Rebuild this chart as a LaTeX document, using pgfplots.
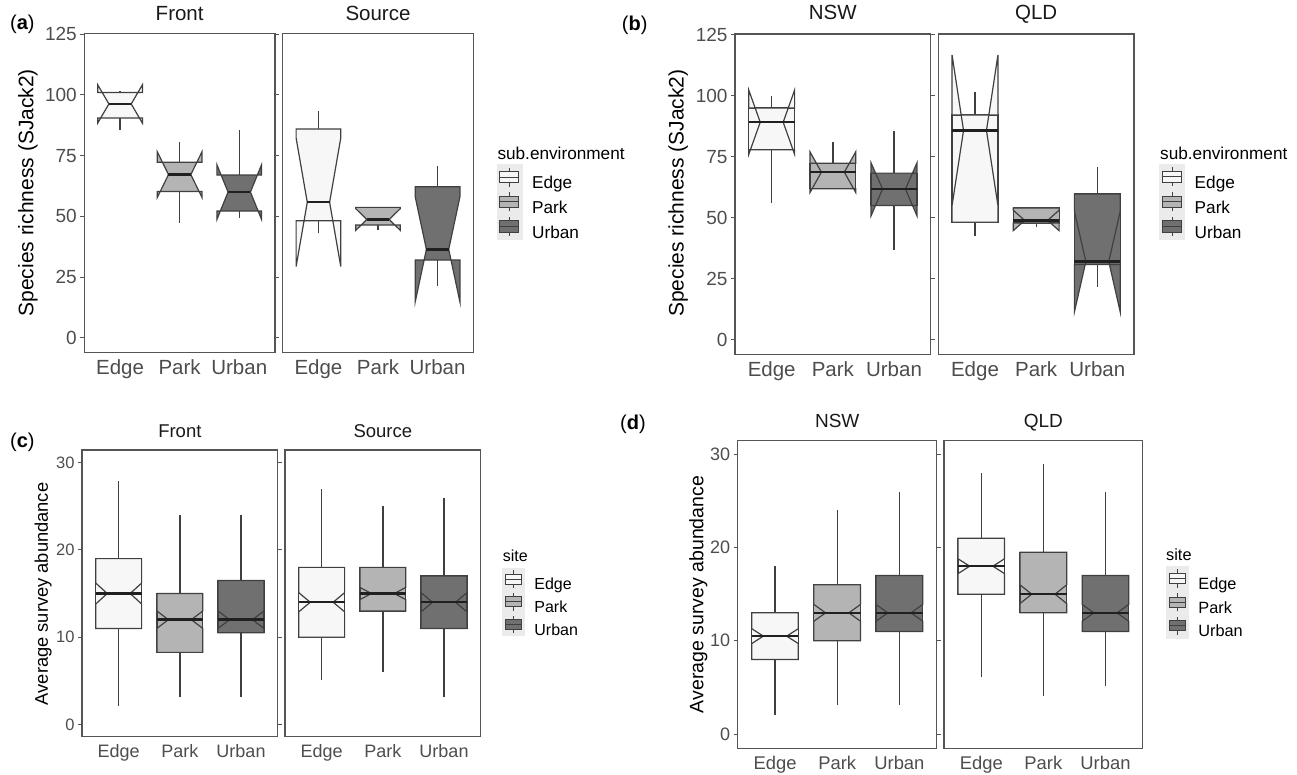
\documentclass[border=0pt]{standalone}
\usepackage{fontspec}
\setmainfont{Liberation Sans}
\usepackage{pgfplots}
\pgfplotsset{compat=1.18}

\definecolor{EdgeC}{HTML}{F7F7F7}
\definecolor{ParkC}{HTML}{B4B4B4}
\definecolor{UrbanC}{HTML}{707070}
\definecolor{linec}{HTML}{404040}
\definecolor{medc}{HTML}{202020}
\definecolor{framec}{HTML}{555555}
\definecolor{tickc}{HTML}{4D4D4D}
\definecolor{keybg}{HTML}{EBEBEB}

\newcommand\fs[1]{\fontsize{#1}{#1}\selectfont}
\newif\ifrectbox

% notched box: x, lower whisker, q1, median, q3, upper whisker, notch low, notch high, fill
\newcommand\nbox[9]{%
  \pgfmathsetmacro\bL{#1-0.375}\pgfmathsetmacro\bR{#1+0.375}%
  \pgfmathsetmacro\nL{#1-0.1875}\pgfmathsetmacro\nR{#1+0.1875}%
  \addplot[whisk] coordinates {(#1,#2) (#1,#3)};
  \addplot[whisk] coordinates {(#1,#5) (#1,#6)};
  \ifrectbox
    \edef\tmp{\noexpand\addplot[boxl,fill=#9] coordinates {(\bL,#3) (\bR,#3) (\bR,#5) (\bL,#5)} -- cycle;}\tmp
  \fi
  \edef\tmp{\noexpand\addplot[boxl,fill=#9] coordinates {(\bL,#5) (\bL,#8) (\nL,#4) (\bL,#7) (\bL,#3) (\bR,#3) (\bR,#7) (\nR,#4) (\bR,#8) (\bR,#5)} -- cycle;}\tmp
  \ifrectbox
    \edef\tmp{\noexpand\addplot[medl] coordinates {(\bL,#4) (\bR,#4)};}\tmp
  \else
    \edef\tmp{\noexpand\addplot[medl] coordinates {(\nL,#4) (\nR,#4)};}\tmp
  \fi
}

\pgfplotsset{
  facet/.style={scale only axis, anchor=south west,
    xmin=0.4, xmax=3.6, xtick={1,2,3}, xticklabels={Edge,Park,Urban},
    axis line style={draw=framec, line width=1.2pt},
    tick align=outside, major tick length=4pt,
    xtick style={draw=none}, ytick style={draw=framec, line width=1pt},
    ticklabel style={text=tickc},
    /pgf/number format/assume math mode=true,
    title style={at={(0.5,1)}, anchor=base, text=black!90},
    ylabel style={anchor=center}},
  noy/.style={ytick=\empty},
  whisk/.style={forget plot, draw=linec, line width=1.3pt},
  boxl/.style={forget plot, draw=linec, line width=1.2pt},
  medl/.style={forget plot, draw=medc, line width=2.4pt},
  keyA/.style={legend image code/.code={
    \fill[keybg] (0pt,-6.3pt) rectangle (25pt,18.7pt);
    \draw[linec, line width=1pt] (12.5pt,-3.3pt) -- (12.5pt,15.7pt);
    \draw[linec, line width=1pt, fill=#1] (3pt,0.6pt) rectangle (22pt,11.8pt);
    \draw[linec, line width=1pt] (3pt,6.2pt) -- (22pt,6.2pt);}},
  keyC/.style={legend image code/.code={
    \fill[keybg] (0pt,-5.5pt) rectangle (22pt,17pt);
    \draw[linec, line width=1pt] (11pt,-3pt) -- (11pt,14.5pt);
    \draw[linec, line width=1pt, fill=#1] (3pt,0.8pt) rectangle (19pt,10.6pt);
    \draw[linec, line width=1pt] (3pt,5.7pt) -- (19pt,5.7pt);}},
  keyD/.style={legend image code/.code={
    \fill[keybg] (0pt,-6.5pt) rectangle (22pt,18pt);
    \draw[linec, line width=1pt] (11pt,-3.5pt) -- (11pt,15pt);
    \draw[linec, line width=1pt, fill=#1] (3pt,0.8pt) rectangle (19pt,10.8pt);
    \draw[linec, line width=1pt] (3pt,5.8pt) -- (19pt,5.8pt);}},
  leg/.style={legend cell align=left, legend style={draw=none, fill=none,
    inner sep=0pt, outer sep=0pt, row sep=-2.1pt, column sep=9pt,
    anchor=north west, nodes={inner sep=1pt, text=black, font=\fs{#1}}}},
  pAB/.style={xticklabel style={font=\fs{20.5}}, yticklabel style={font=\fs{19}},
    title style={font=\fs{20.5}}, ylabel style={font=\fs{21}},
    ymin=-6, ymax=125.4, ytick={0,25,50,75,100,125}},
}

\begin{document}
\begin{tikzpicture}
\useasboundingbox (0,0) rectangle (1297pt,-775pt);

% ---------- (a)
\begin{axis}[facet, pAB, at={(84.3pt,-352.3pt)}, width=190.7pt, height=319pt,
  title={Front}, title style={yshift=6.6pt},
  ylabel={Species richness (SJack2)}, ylabel style={at={(axis description cs:-0.295,0.5)}}]
\rectboxfalse
\nbox{1}{85.6}{90.5}{96.3}{101}{101.8}{88.4}{104.2}{EdgeC}
\nbox{2}{47.4}{60.2}{67.2}{72.3}{80.8}{57.8}{76.6}{ParkC}
\nbox{3}{49.5}{52.2}{60.0}{67.0}{85.6}{48.7}{71.3}{UrbanC}
\end{axis}
\begin{axis}[facet, pAB, noy, at={(282.7pt,-352.3pt)}, width=190.6pt, height=319pt,
  title={Source}, title style={yshift=6.6pt},
  leg=17.2, legend style={at={(1.1228,0.5893)}}]
\rectboxfalse
\nbox{1}{43.0}{48.2}{55.8}{86.0}{93.4}{29.3}{82.3}{EdgeC}
\nbox{2}{44.2}{46.4}{48.7}{53.7}{53.7}{44.2}{53.2}{ParkC}
\nbox{3}{21.3}{32.0}{36.4}{62.2}{70.9}{14.8}{58.0}{UrbanC}
\addlegendimage{keyA=EdgeC}\addlegendentry{Edge}
\addlegendimage{keyA=ParkC}\addlegendentry{Park}
\addlegendimage{keyA=UrbanC}\addlegendentry{Urban}
\end{axis}

% ---------- (b)
\begin{axis}[facet, pAB, at={(735pt,-354.2pt)}, width=195.7pt, height=320.2pt,
  title={NSW}, title style={yshift=8pt},
  ylabel={Species richness (SJack2)}, ylabel style={at={(axis description cs:-0.29,0.503)}}]
\rectboxtrue
\nbox{1}{56.0}{77.9}{89.2}{95.0}{100.1}{76.0}{102.4}{EdgeC}
\nbox{2}{61.9}{61.9}{68.7}{72.4}{80.9}{60.3}{77.1}{ParkC}
\nbox{3}{36.6}{55.0}{61.8}{68.3}{85.7}{50.8}{72.5}{UrbanC}
\end{axis}
\begin{axis}[facet, pAB, noy, at={(938.3pt,-354.2pt)}, width=195.7pt, height=320.2pt,
  title={QLD}, title style={yshift=8pt},
  leg=17.2, legend style={at={(1.1293,0.5931)}}]
\rectboxtrue
\nbox{1}{42.7}{48.2}{85.8}{92.2}{101.8}{55.0}{116.8}{EdgeC}
\nbox{2}{46.0}{47.8}{48.9}{54.0}{54.0}{44.7}{53.1}{ParkC}
\nbox{3}{21.6}{30.8}{32.0}{59.7}{71.0}{11.3}{52.7}{UrbanC}
\addlegendimage{keyA=EdgeC}\addlegendentry{Edge}
\addlegendimage{keyA=ParkC}\addlegendentry{Park}
\addlegendimage{keyA=UrbanC}\addlegendentry{Urban}
\end{axis}

% ---------- (c)
\begin{axis}[facet, at={(82pt,-736.7pt)}, width=195.7pt, height=286.7pt,
  xticklabel style={font=\fs{18}}, yticklabel style={font=\fs{16.5}},
  title style={font=\fs{18.5}, yshift=6.7pt}, ylabel style={font=\fs{18.3}},
  ymin=-1.42, ymax=31.46, ytick={0,10,20,30},
  title={Front}, ylabel={Average survey abundance},
  ylabel style={at={(axis description cs:-0.198,0.498)}}]
\rectboxtrue
\nbox{1}{2.1}{11.0}{15.0}{19.0}{27.9}{13.8}{16.2}{EdgeC}
\nbox{2}{3.1}{8.25}{12.0}{15.0}{24.0}{11.0}{13.0}{ParkC}
\nbox{3}{3.1}{10.5}{12.0}{16.5}{24.0}{11.0}{13.0}{UrbanC}
\end{axis}
\begin{axis}[facet, noy, at={(285pt,-736.7pt)}, width=195.7pt, height=286.7pt,
  xticklabel style={font=\fs{18}}, title style={font=\fs{18.5}, yshift=6.7pt},
  ymin=-1.42, ymax=31.46, title={Source},
  leg=16, legend style={at={(1.1088,0.5895)}}]
\rectboxtrue
\nbox{1}{5.1}{10.0}{14.0}{18.0}{27.0}{12.9}{15.1}{EdgeC}
\nbox{2}{6.0}{13.0}{15.0}{18.0}{25.0}{14.3}{15.7}{ParkC}
\nbox{3}{3.1}{11.0}{14.0}{17.0}{26.0}{12.9}{15.1}{UrbanC}
\addlegendimage{keyC=EdgeC}\addlegendentry{Edge}
\addlegendimage{keyC=ParkC}\addlegendentry{Park}
\addlegendimage{keyC=UrbanC}\addlegendentry{Urban}
\end{axis}

% ---------- (d)
\begin{axis}[facet, at={(737.7pt,-748.3pt)}, width=199pt, height=307.6pt,
  xticklabel style={font=\fs{18.4}}, yticklabel style={font=\fs{18}},
  title style={font=\fs{19}, yshift=7.4pt}, ylabel style={font=\fs{19.5}},
  ymin=-1.53, ymax=31.46, ytick={0,10,20,30},
  title={NSW}, ylabel={Average survey abundance},
  ylabel style={at={(axis description cs:-0.198,0.5)}}]
\rectboxtrue
\nbox{1}{2.0}{8.0}{10.5}{13.0}{18.0}{9.7}{11.3}{EdgeC}
\nbox{2}{3.1}{10.0}{13.0}{16.0}{24.0}{12.1}{13.9}{ParkC}
\nbox{3}{3.1}{11.0}{13.0}{17.0}{26.0}{12.1}{13.9}{UrbanC}
\end{axis}
\begin{axis}[facet, noy, at={(944pt,-748.3pt)}, width=198.7pt, height=307.6pt,
  xticklabel style={font=\fs{18.4}}, title style={font=\fs{19}, yshift=7.4pt},
  ymin=-1.53, ymax=31.46, title={QLD},
  leg=16.3, legend style={at={(1.1173,0.5927)}}]
\rectboxtrue
\nbox{1}{6.1}{15.0}{18.0}{21.0}{28.0}{17.2}{18.8}{EdgeC}
\nbox{2}{4.1}{13.0}{15.0}{19.5}{29.0}{14.0}{16.0}{ParkC}
\nbox{3}{5.1}{11.0}{13.0}{17.0}{26.0}{12.1}{13.9}{UrbanC}
\addlegendimage{keyD=EdgeC}\addlegendentry{Edge}
\addlegendimage{keyD=ParkC}\addlegendentry{Park}
\addlegendimage{keyD=UrbanC}\addlegendentry{Urban}
\end{axis}

% legend titles and panel tags
\node[anchor=base west, font=\fs{17.2}, inner sep=0pt] at (497.3pt,-160pt) {sub.environment};
\node[anchor=base west, font=\fs{17.2}, inner sep=0pt] at (1160pt,-160pt) {sub.environment};
\node[anchor=base west, font=\fs{16}, inner sep=0pt] at (502.7pt,-561.7pt) {site};
\node[anchor=base west, font=\fs{16.3}, inner sep=0pt] at (1166pt,-560pt) {site};
\node[anchor=base west, font=\fs{20}, inner sep=0pt] at (10pt,-29.3pt) {({\bfseries a})};
\node[anchor=base west, font=\fs{20}, inner sep=0pt] at (621.7pt,-30.7pt) {({\bfseries b})};
\node[anchor=base west, font=\fs{20}, inner sep=0pt] at (10pt,-447.3pt) {({\bfseries c})};
\node[anchor=base west, font=\fs{20}, inner sep=0pt] at (620pt,-429.3pt) {({\bfseries d})};
\end{tikzpicture}
\end{document}
